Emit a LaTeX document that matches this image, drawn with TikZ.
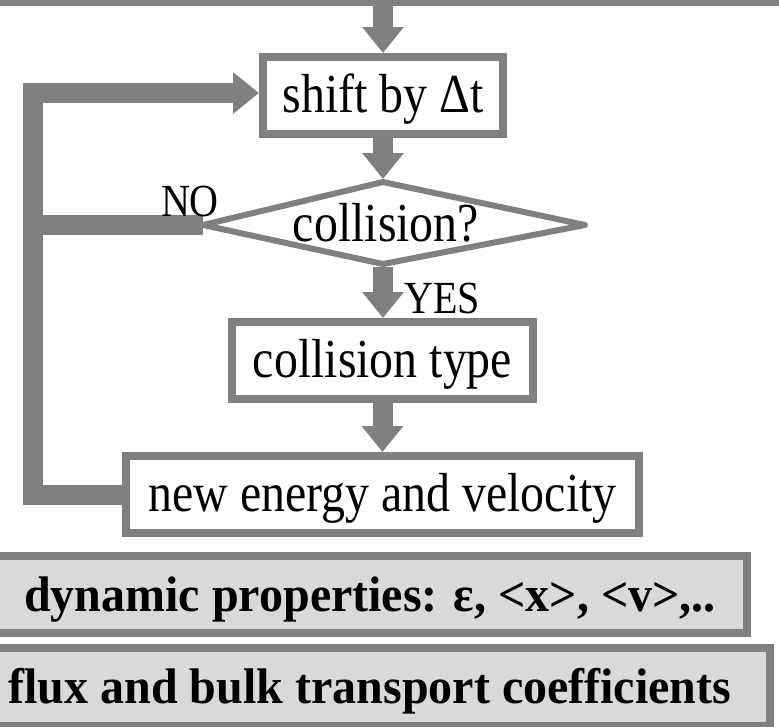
\documentclass[tikz,border=0pt]{standalone}
\usepackage{fontspec}
\setmainfont{Liberation Serif}
\newfontfamily\stepfont[FakeStretch=0.87]{Liberation Serif}
\newfontfamily\panelfont[FakeStretch=0.96]{Liberation Serif}
\usetikzlibrary{arrows.meta}
\definecolor{flowgray}{HTML}{808080}
\definecolor{panelfill}{HTML}{D9D9D9}

\begin{document}
\begin{tikzpicture}[x=1pt,y=-1pt,
  stepbox/.style={draw=flowgray, line width=8pt, fill=white, inner sep=0pt,
    minimum height=77pt, text height=36pt, text depth=3pt,
    font=\stepfont\fontsize{55}{60}\selectfont},
  panel/.style={stepbox, fill=panelfill,
    font=\panelfont\fontsize{50}{56}\selectfont\bfseries},
  flowarrow/.style={draw=flowgray, line width=20pt,
    -{Triangle[width=40pt,length=26pt]}},
  flowbar/.style={draw=flowgray, line width=20pt},
  tag/.style={font=\stepfont\fontsize{46}{50}\selectfont, inner sep=0pt}]

\useasboundingbox (0,0) rectangle (779,726);

% preceding step (only its lower edge is visible)
\node[stepbox, line width=6pt, minimum width=820pt, minimum height=100pt,
      anchor=south] (prev) at (390,6) {};

% process steps
\node[stepbox, minimum width=240pt] (shift) at (383,95.5) {shift by Δt};
\node[stepbox, minimum width=301pt] (ctype) at (382.5,360.5) {collision type};
\node[stepbox, minimum width=513pt] (newE) at (382.5,494.5) {new energy and velocity};

% result panels
\node[panel, minimum width=754pt] (dyn) at (370,594.5) {dynamic properties: ε, <x>, <v>,..};
\node[panel, minimum width=800pt, minimum height=78pt] (flux) at (370,687) {flux and bulk transport coefficients};

% decision corners and loop corner
\coordinate (dT) at (383,182);
\coordinate (dR) at (585,225);
\coordinate (dB) at (383,264);
\coordinate (dL) at (203,225);
\coordinate (loopTop) at (33,93);

% "NO" branch joins the return loop
\draw[flowbar] (dL) -- (dL -| loopTop);

% decision
\draw[draw=flowgray, line width=6pt, line join=round, fill=white]
  (dT) -- (dR) -- (dB) -- (dL) -- cycle;
\node[inner sep=0pt, text height=36pt, text depth=3pt,
      font=\stepfont\fontsize{55}{60}\selectfont] (coll) at (386,225) {collision?};

% main flow
\draw[flowarrow] (shift.north |- prev.south) -- (shift.north);
\draw[flowarrow, shorten >=3pt] (shift.south) -- (dT);
\draw[flowarrow, shorten <=3pt] (dB) -- (dB |- ctype.north);
\draw[flowarrow] (ctype.south) -- (newE.north);

% return loop
\draw[flowarrow, line join=miter] (newE.west) -| (loopTop) -- (shift.west |- loopTop);

% branch labels
\node[tag] (no) at (190,201) {NO};
\node[tag] (yes) at (442,298) {YES};
\end{tikzpicture}
\end{document}
